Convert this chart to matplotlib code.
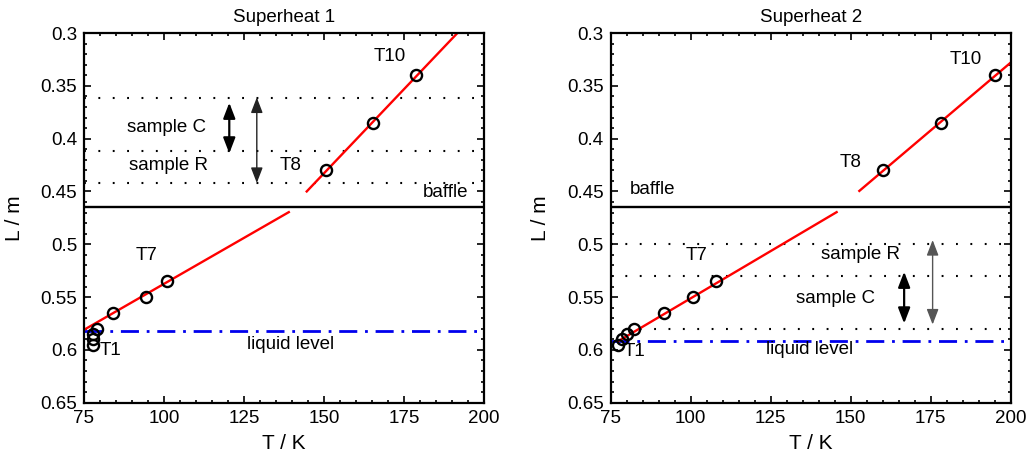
import matplotlib
matplotlib.use("Agg")
import matplotlib.pyplot as plt
from matplotlib.ticker import MultipleLocator, FuncFormatter

plt.rcParams['font.family'] = ['Liberation Sans', 'DejaVu Sans']

# ---- data ----
heights = [0.595, 0.59, 0.585, 0.58, 0.565, 0.55, 0.535, 0.43, 0.385, 0.34]
T_sh1 = [77.7, 77.7, 77.7, 79.0, 84.0, 94.3, 101.0, 150.6, 165.4, 178.9]
T_sh2 = [77.2, 78.4, 80.2, 82.4, 91.6, 100.6, 107.9, 160.2, 178.2, 195.1]

fit1_low_T = [75.0, 139.0];   fit1_low_L = [0.581, 0.4696]
fit1_up_T = [144.6, 191.7];   fit1_up_L = [0.450, 0.300]
fit2_low_T = [77.2, 145.6];   fit2_low_L = [0.592, 0.4696]
fit2_up_T = [152.7, 200.0];   fit2_up_L = [0.4495, 0.328]

baffle = 0.465
liquid1 = 0.582
liquid2 = 0.592
dotted1 = [0.362, 0.412, 0.442]
dotted2 = [0.500, 0.530, 0.580]
arrowC1 = (120.4, 0.366, 0.414); arrowR1 = (129.0, 0.361, 0.442)
arrowC2 = (166.7, 0.526, 0.575); arrowR2 = (175.6, 0.496, 0.576)

xticks = [75, 100, 125, 150, 175, 200]
yticks = [0.3, 0.35, 0.4, 0.45, 0.5, 0.55, 0.6, 0.65]

fig = plt.figure(figsize=(10.28, 4.67), dpi=100)
ax1 = fig.add_axes([84/1028, 1-402.7/467, 400/1028, 369.7/467])
ax2 = fig.add_axes([610.7/1028, 1-402.7/467, 400/1028, 369.7/467])

FS = 13.5

def style(ax, title):
    ax.set_xlim(75, 200)
    ax.set_ylim(0.65, 0.3)
    ax.set_xticks(xticks)
    ax.set_yticks(yticks)
    ax.xaxis.set_minor_locator(MultipleLocator(5))
    ax.yaxis.set_minor_locator(MultipleLocator(0.01))
    ax.yaxis.set_major_formatter(FuncFormatter(lambda v, p: '%g' % round(v, 3)))
    ax.tick_params(which='both', direction='in', top=True, right=True, labelsize=FS, width=1.2)
    ax.tick_params(which='major', length=5, pad=5)
    ax.tick_params(which='minor', length=2.5)
    for s in ax.spines.values():
        s.set_linewidth(1.6)
    ax.set_title(title, fontsize=FS, pad=8)
    ax.set_xlabel('T / K', fontsize=15, labelpad=5)
    ax.set_ylabel('L / m', fontsize=15, labelpad=12)

def darrow(ax, a, color, lw):
    x, y0, y1 = a
    ax.annotate('', xy=(x, y0), xytext=(x, y1),
                arrowprops=dict(arrowstyle='<|-|>,head_length=0.52,head_width=0.2',
                                color=color, lw=lw,
                                mutation_scale=18, shrinkA=0, shrinkB=0))

dot_ls = (0, (0.9, 6))

# ---- Superheat 1 ----
for y in dotted1:
    ax1.axhline(y, color='black', lw=1.5, ls=dot_ls)
ax1.axhline(baffle, color='black', lw=1.7)
ax1.axhline(liquid1, color='#0000ee', lw=2, dashes=(6.5, 2.8, 1, 2.8))
ax1.plot(fit1_low_T, fit1_low_L, color='red', lw=1.7)
ax1.plot(fit1_up_T, fit1_up_L, color='red', lw=1.7)
ax1.plot(T_sh1, heights, 'o', mfc='none', mec='black', ms=8, mew=1.7)
darrow(ax1, arrowC1, 'black', 1.6)
darrow(ax1, arrowR1, '#222222', 1.0)
ax1.text(100.8, 0.389, 'sample C', fontsize=FS, ha='center', va='center')
ax1.text(101.4, 0.425, 'sample R', fontsize=FS, ha='center', va='center')
ax1.text(139.4, 0.4255, 'T8', fontsize=FS, ha='center', va='center')
ax1.text(170.4, 0.322, 'T10', fontsize=FS, ha='center', va='center')
ax1.text(188.1, 0.4507, 'baffle', fontsize=FS, ha='center', va='center')
ax1.text(94.6, 0.511, 'T7', fontsize=FS, ha='center', va='center')
ax1.text(83.4, 0.6005, 'T1', fontsize=FS, ha='center', va='center')
ax1.text(139.4, 0.5945, 'liquid level', fontsize=FS, ha='center', va='center')
style(ax1, 'Superheat 1')

# ---- Superheat 2 ----
for y in dotted2:
    ax2.axhline(y, color='black', lw=1.5, ls=dot_ls)
ax2.axhline(baffle, color='black', lw=1.7)
ax2.axhline(liquid2, color='#0000ee', lw=2, dashes=(6.5, 2.8, 1, 2.8))
ax2.plot(fit2_low_T, fit2_low_L, color='red', lw=1.7)
ax2.plot(fit2_up_T, fit2_up_L, color='red', lw=1.7)
ax2.plot(T_sh2, heights, 'o', mfc='none', mec='black', ms=8, mew=1.7)
darrow(ax2, arrowC2, 'black', 1.6)
darrow(ax2, arrowR2, '#555555', 1.0)
ax2.text(88.0, 0.4485, 'baffle', fontsize=FS, ha='center', va='center')
ax2.text(150.0, 0.423, 'T8', fontsize=FS, ha='center', va='center')
ax2.text(186.0, 0.3255, 'T10', fontsize=FS, ha='center', va='center')
ax2.text(101.7, 0.511, 'T7', fontsize=FS, ha='center', va='center')
ax2.text(82.3, 0.602, 'T1', fontsize=FS, ha='center', va='center')
ax2.text(137.0, 0.600, 'liquid level', fontsize=FS, ha='center', va='center')
ax2.text(153.2, 0.510, 'sample R', fontsize=FS, ha='center', va='center')
ax2.text(145.4, 0.551, 'sample C', fontsize=FS, ha='center', va='center')
style(ax2, 'Superheat 2')

fig.savefig('out.png', dpi=100)
